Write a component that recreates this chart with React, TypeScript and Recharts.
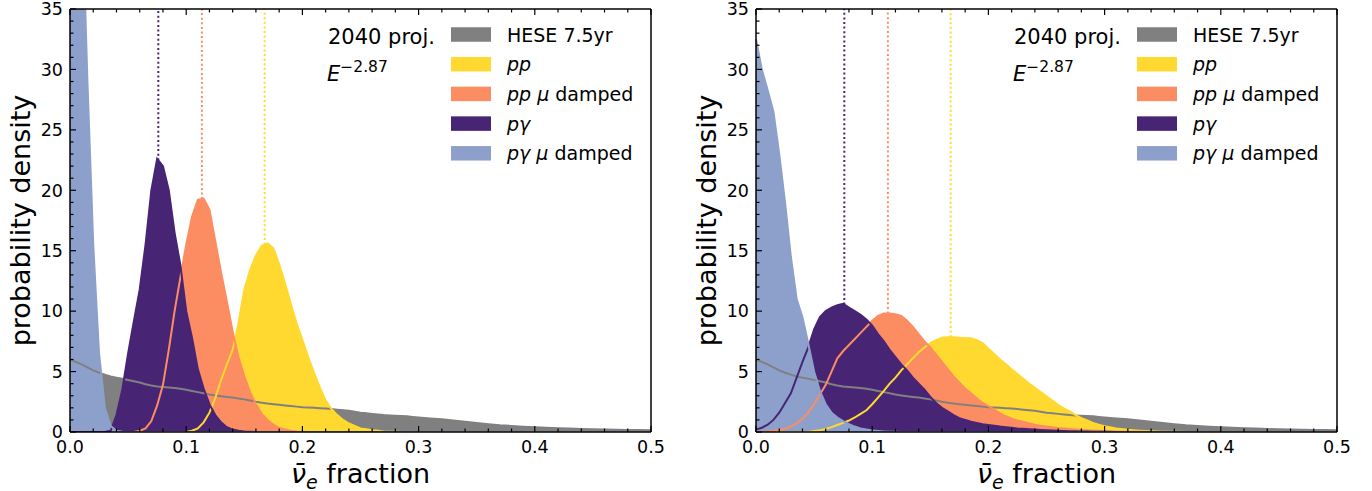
import React from 'react';
import { ComposedChart, Area, Line, XAxis, YAxis, ReferenceLine, Legend } from 'recharts';

// nu_e-bar fraction grid (x positions of the density estimates)
const fracGrid = [
  0, 0.005, 0.01, 0.015, 0.02, 0.025, 0.03, 0.035, 0.04, 0.045,
  0.05, 0.055, 0.06, 0.065, 0.07, 0.075, 0.08, 0.085, 0.09, 0.095,
  0.1, 0.105, 0.11, 0.115, 0.12, 0.125, 0.13, 0.135, 0.14, 0.145,
  0.15, 0.155, 0.16, 0.165, 0.17, 0.175, 0.18, 0.185, 0.19, 0.195,
  0.2, 0.205, 0.21, 0.215, 0.22, 0.225, 0.23, 0.235, 0.24, 0.245,
  0.25, 0.255, 0.26, 0.265, 0.27, 0.275, 0.28, 0.285, 0.29, 0.295,
  0.3, 0.31, 0.32, 0.33, 0.34, 0.35, 0.36, 0.37, 0.38, 0.39,
  0.4, 0.41, 0.42, 0.43, 0.44, 0.45, 0.46, 0.47, 0.48, 0.49,
  0.5,
];

// HESE 7.5yr (same in both panels)
const heseDensity = [
  6.0, 5.8, 5.6, 5.35, 5.1, 4.9, 4.75, 4.6, 4.5, 4.4,
  4.3, 4.2, 4.1, 3.95, 3.85, 3.77, 3.72, 3.68, 3.65, 3.58,
  3.5, 3.4, 3.3, 3.2, 3.1, 3.02, 2.95, 2.9, 2.85, 2.78,
  2.7, 2.6, 2.5, 2.42, 2.35, 2.3, 2.25, 2.2, 2.15, 2.1,
  2.05, 2.02, 2.0, 1.97, 1.95, 1.9, 1.85, 1.8, 1.75, 1.68,
  1.6, 1.55, 1.5, 1.45, 1.4, 1.37, 1.35, 1.32, 1.3, 1.25,
  1.2, 1.12, 1.05, 0.95, 0.85, 0.75, 0.65, 0.56, 0.5, 0.44,
  0.4, 0.35, 0.31, 0.28, 0.25, 0.22, 0.2, 0.18, 0.17, 0.16,
  0.15,
];

// left panel
const ppLeft = [
  0, 0, 0, 0, 0, 0, 0, 0, 0, 0,
  0, 0, 0, 0, 0, 0, 0, 0, 0, 0,
  0, 0.1, 0.3, 0.8, 1.6, 2.8, 4.3, 5.6, 6.8, 9.0,
  11.8, 13.4, 14.6, 15.4, 15.6, 15.2, 13.9, 12.3, 10.6, 9.0,
  7.6, 6.2, 4.9, 3.7, 2.6, 1.9, 1.4, 1.0, 0.7, 0.5,
  0.3, 0.22, 0.15, 0.1, 0.05, 0.03, 0.02, 0.01, 0, 0,
  0, 0, 0, 0, 0, 0, 0, 0, 0, 0,
  0, 0, 0, 0, 0, 0, 0, 0, 0, 0,
  0,
];
const ppDampedLeft = [
  0, 0, 0, 0, 0, 0, 0, 0, 0, 0,
  0, 0, 0.1, 0.3, 0.9, 2.2, 3.9, 6.8, 10.0, 12.8,
  15.5, 17.8, 19.2, 19.3, 18.4, 15.8, 13.2, 10.8, 8.3, 6.2,
  4.6, 3.3, 2.3, 1.5, 1.0, 0.6, 0.35, 0.2, 0.1, 0.05,
  0.02, 0, 0, 0, 0, 0, 0, 0, 0, 0,
  0, 0, 0, 0, 0, 0, 0, 0, 0, 0,
  0, 0, 0, 0, 0, 0, 0, 0, 0, 0,
  0, 0, 0, 0, 0, 0, 0, 0, 0, 0,
  0,
];
const pgLeft = [
  0, 0, 0, 0, 0, 0, 0, 0.1, 1.4, 3.5,
  6.5, 9.2, 11.8, 15.5, 20.0, 22.6, 22.0, 20.0, 16.5, 13.8,
  10.0, 7.8, 5.2, 3.6, 2.3, 1.4, 0.8, 0.4, 0.2, 0.1,
  0.05, 0.02, 0, 0, 0, 0, 0, 0, 0, 0,
  0, 0, 0, 0, 0, 0, 0, 0, 0, 0,
  0, 0, 0, 0, 0, 0, 0, 0, 0, 0,
  0, 0, 0, 0, 0, 0, 0, 0, 0, 0,
  0, 0, 0, 0, 0, 0, 0, 0, 0, 0,
  0,
];
const pgDampedLeft = [
  80, 60, 45, 29, 15.5, 6.5, 2.0, 0.5, 0.1, 0.02,
  0, 0, 0, 0, 0, 0, 0, 0, 0, 0,
  0, 0, 0, 0, 0, 0, 0, 0, 0, 0,
  0, 0, 0, 0, 0, 0, 0, 0, 0, 0,
  0, 0, 0, 0, 0, 0, 0, 0, 0, 0,
  0, 0, 0, 0, 0, 0, 0, 0, 0, 0,
  0, 0, 0, 0, 0, 0, 0, 0, 0, 0,
  0, 0, 0, 0, 0, 0, 0, 0, 0, 0,
  0,
];

// right panel
const ppRight = [
  0, 0, 0, 0, 0, 0, 0, 0, 0, 0,
  0.08, 0.15, 0.25, 0.4, 0.58, 0.75, 0.95, 1.2, 1.5, 1.8,
  2.3, 2.85, 3.4, 4.0, 4.5, 5.1, 5.6, 6.1, 6.6, 7.0,
  7.35, 7.6, 7.8, 7.85, 7.85, 7.8, 7.75, 7.75, 7.6, 7.35,
  6.9, 6.45, 6.0, 5.6, 5.2, 4.8, 4.4, 4.0, 3.65, 3.3,
  2.95, 2.6, 2.25, 1.95, 1.7, 1.4, 1.15, 0.95, 0.75, 0.6,
  0.48, 0.3, 0.18, 0.11, 0.06, 0.03, 0.02, 0, 0, 0,
  0, 0, 0, 0, 0, 0, 0, 0, 0, 0,
  0,
];
const ppDampedRight = [
  0, 0.02, 0.05, 0.1, 0.15, 0.28, 0.45, 0.72, 1.1, 1.6,
  2.3, 3.1, 3.9, 5.0, 6.1, 6.7, 7.2, 7.7, 8.2, 8.7,
  9.2, 9.6, 9.8, 9.8, 9.75, 9.6, 9.2, 8.7, 8.1, 7.5,
  7.0, 6.4, 5.8, 5.2, 4.6, 4.1, 3.6, 3.2, 2.8, 2.4,
  2.15, 1.85, 1.55, 1.3, 1.1, 0.95, 0.85, 0.72, 0.6, 0.52,
  0.45, 0.39, 0.33, 0.29, 0.25, 0.21, 0.17, 0.14, 0.12, 0.1,
  0.08, 0.05, 0.03, 0.02, 0.01, 0, 0, 0, 0, 0,
  0, 0, 0, 0, 0, 0, 0, 0, 0, 0,
  0,
];
const pgRight = [
  0.2, 0.35, 0.6, 1.0, 1.6, 2.4, 3.2, 4.5, 5.8, 7.0,
  8.5, 9.5, 10.0, 10.3, 10.5, 10.6, 10.3, 10.0, 9.7, 9.3,
  8.8, 8.1, 7.5, 6.8, 6.2, 5.6, 5.1, 4.5, 4.0, 3.5,
  2.9, 2.4, 2.0, 1.7, 1.4, 1.15, 1.0, 0.85, 0.75, 0.65,
  0.58, 0.52, 0.45, 0.4, 0.35, 0.3, 0.27, 0.23, 0.2, 0.17,
  0.15, 0.12, 0.1, 0.08, 0.07, 0.06, 0.05, 0.04, 0.03, 0.025,
  0.02, 0.01, 0, 0, 0, 0, 0, 0, 0, 0,
  0, 0, 0, 0, 0, 0, 0, 0, 0, 0,
  0,
];
const pgDampedRight = [
  32.5, 30.0, 28.3, 26.5, 23.0, 19.0, 14.5, 11.0, 9.5, 7.3,
  5.0, 3.4, 2.3, 1.6, 1.2, 0.9, 0.65, 0.45, 0.3, 0.2,
  0.12, 0.08, 0.05, 0.03, 0.02, 0, 0, 0, 0, 0,
  0, 0, 0, 0, 0, 0, 0, 0, 0, 0,
  0, 0, 0, 0, 0, 0, 0, 0, 0, 0,
  0, 0, 0, 0, 0, 0, 0, 0, 0, 0,
  0, 0, 0, 0, 0, 0, 0, 0, 0, 0,
  0, 0, 0, 0, 0, 0, 0, 0, 0, 0,
  0,
];

// expected source fractions (dotted lines)
const expectedPp = 0.1675;
const expectedPpDamped = 0.1135;
const expectedPg = 0.076;

const xTicks = [
  0, 0.02, 0.04, 0.06, 0.08, 0.1, 0.12, 0.14, 0.16, 0.18, 0.2, 0.22, 0.24,
  0.26, 0.28, 0.3, 0.32, 0.34, 0.36, 0.38, 0.4, 0.42, 0.44, 0.46, 0.48, 0.5,
];
const yTicks = [
  0, 1, 2, 3, 4, 5, 6, 7, 8, 9, 10, 11, 12, 13, 14, 15, 16, 17,
  18, 19, 20, 21, 22, 23, 24, 25, 26, 27, 28, 29, 30, 31, 32, 33, 34, 35,
];

const FONT = '"DejaVu Sans", Verdana, sans-serif';
const W = 686;
const H = 491;
const PLOT_LEFT = 70;
const PLOT_TOP = 9;
const MAJOR = 6;
const MINOR = 3.5;

const series = [
  { key: 'hese', color: '#808080' },
  { key: 'pp', color: '#ffd92f' },
  { key: 'ppDamped', color: '#fc8d62' },
  { key: 'pg', color: '#482475' },
  { key: 'pgDamped', color: '#8da0cb' },
];

const colorOf = (k: string) => series.find((s) => s.key === k)!.color;

// linear interpolation of a density at a given fraction (end of the dotted lines)
const densityAt = (ys: number[], x: number) => {
  for (let i = 0; i < fracGrid.length - 1; i++) {
    if (x >= fracGrid[i] && x <= fracGrid[i + 1]) {
      const t = (x - fracGrid[i]) / (fracGrid[i + 1] - fracGrid[i]);
      return ys[i] + t * (ys[i + 1] - ys[i]);
    }
  }
  return 0;
};

const isMajorX = (v: number) => Math.abs(v * 10 - Math.round(v * 10)) < 1e-6;

const BottomTick = ({ x, y, payload }: any) => {
  const major = isMajorX(payload.value);
  return (
    <g>
      <line x1={x} x2={x} y1={y} y2={y - (major ? MAJOR : MINOR)} stroke="#000" strokeWidth={1.2} />
      {major && (
        <text x={x} y={y + 21} textAnchor="middle" fontSize={17.5} fontFamily={FONT} fill="#000">
          {payload.value.toFixed(1)}
        </text>
      )}
    </g>
  );
};

const TopTick = ({ x, y, payload }: any) => (
  <line x1={x} x2={x} y1={y} y2={y + (isMajorX(payload.value) ? MAJOR : MINOR)} stroke="#000" strokeWidth={1.2} />
);

const LeftTick = ({ x, y, payload }: any) => {
  const major = payload.value % 5 === 0;
  return (
    <g>
      <line x1={x} x2={x + (major ? MAJOR : MINOR)} y1={y} y2={y} stroke="#000" strokeWidth={1.2} />
      {major && (
        <text x={x - 7} y={y + 6.3} textAnchor="end" fontSize={17.5} fontFamily={FONT} fill="#000">
          {payload.value}
        </text>
      )}
    </g>
  );
};

const RightTick = ({ x, y, payload }: any) => (
  <line x1={x} x2={x - (payload.value % 5 === 0 ? MAJOR : MINOR)} y1={y} y2={y} stroke="#000" strokeWidth={1.2} />
);

const XTitle = (props: any) => {
  const vb = props.viewBox || { x: PLOT_LEFT, y: 432, width: 581, height: 59 };
  return (
    <text x={vb.x + vb.width / 2} y={vb.y + 51} textAnchor="middle" fontSize={27} fontFamily={FONT} fill="#000">
      <tspan fontStyle="italic">{'\u03BD\u0304'}</tspan>
      <tspan fontStyle="italic" fontSize={19} dy={6}>e</tspan>
      <tspan dy={-6}> fraction</tspan>
    </text>
  );
};

const YTitle = (props: any) => {
  const vb = props.viewBox || { x: 0, y: PLOT_TOP, width: PLOT_LEFT, height: 423 };
  const cx = vb.x + 30;
  const cy = vb.y + vb.height / 2;
  return (
    <text x={cx} y={cy} transform={`rotate(-90, ${cx}, ${cy})`} textAnchor="middle" fontSize={27} fontFamily={FONT} fill="#000">
      probability density
    </text>
  );
};

const legendRows = [
  { key: 'hese', label: <tspan>HESE 7.5yr</tspan> },
  { key: 'pp', label: <tspan fontStyle="italic">pp</tspan> },
  { key: 'ppDamped', label: <><tspan fontStyle="italic">pp μ</tspan><tspan> damped</tspan></> },
  { key: 'pg', label: <tspan fontStyle="italic">pγ</tspan> },
  { key: 'pgDamped', label: <><tspan fontStyle="italic">pγ μ</tspan><tspan> damped</tspan></> },
];

const LegendOverlay = () => (
  <svg width={W} height={H} style={{ position: 'absolute', left: 0, top: 0 }}>
    <text x={PLOT_LEFT + 258} y={43.5} fontSize={21} fontFamily={FONT} fill="#000">2040 proj.</text>
    <text x={PLOT_LEFT + 257} y={80.5} fontSize={21} fontFamily={FONT} fill="#000">
      <tspan fontStyle="italic">E</tspan>
      <tspan fontSize={15.5} dy={-9}>−2.87</tspan>
    </text>
    {legendRows.map((row, i) => {
      const cy = 34.5 + i * 29.7;
      return (
        <g key={row.key}>
          <rect x={PLOT_LEFT + 381} y={cy - 7.25} width={40} height={14.5} fill={colorOf(row.key)} />
          <text x={PLOT_LEFT + 437} y={cy + 7} fontSize={19} fontFamily={FONT} fill="#000">
            {row.label}
          </text>
        </g>
      );
    })}
  </svg>
);

interface PanelProps {
  pp: number[];
  ppDamped: number[];
  pg: number[];
  pgDamped: number[];
  left: number;
}

const Panel: React.FC<PanelProps> = ({ pp, ppDamped, pg, pgDamped, left }) => {
  const rows = fracGrid.map((f, i) => ({
    f,
    hese: heseDensity[i],
    pp: pp[i],
    ppDamped: ppDamped[i],
    pg: pg[i],
    pgDamped: pgDamped[i],
  }));
  const dotted = [
    { key: 'pg', x: expectedPg, ys: pg },
    { key: 'ppDamped', x: expectedPpDamped, ys: ppDamped },
    { key: 'pp', x: expectedPp, ys: pp },
  ];

  return (
    <div style={{ position: 'absolute', left, top: 0, width: W, height: H }}>
      <ComposedChart
        width={W}
        height={H}
        data={rows}
        margin={{ top: PLOT_TOP - 1, right: 34, bottom: 0, left: 0 }}
        style={{ fontFamily: FONT }}
      >
        {dotted.map((d) => (
          <ReferenceLine
            key={d.key}
            xAxisId="x"
            yAxisId="y"
            segment={[{ x: d.x, y: densityAt(d.ys, d.x) }, { x: d.x, y: 35 }]}
            stroke={colorOf(d.key)}
            strokeWidth={2}
            strokeDasharray="2 2.6"
          />
        ))}

        {series.map((s) => (
          <Area
            key={`fill-${s.key}`}
            xAxisId="x"
            yAxisId="y"
            type="linear"
            dataKey={s.key}
            stroke="none"
            fill={s.color}
            fillOpacity={1}
            isAnimationActive={false}
            legendType="none"
          />
        ))}
        {series.map((s) => (
          <Line
            key={`line-${s.key}`}
            xAxisId="x"
            yAxisId="y"
            type="linear"
            dataKey={s.key}
            stroke={s.color}
            strokeWidth={2}
            dot={false}
            activeDot={false}
            isAnimationActive={false}
            legendType="none"
          />
        ))}

        <XAxis
          xAxisId="x"
          dataKey="f"
          type="number"
          domain={[0, 0.5]}
          ticks={xTicks}
          interval={0}
          height={59}
          tickSize={0}
          tickMargin={0}
          tickLine={false}
          axisLine={{ stroke: '#000', strokeWidth: 1.5 }}
          tick={(p: any) => <BottomTick {...p} />}
          label={<XTitle />}
        />
        <XAxis
          xAxisId="top"
          orientation="top"
          dataKey="f"
          type="number"
          domain={[0, 0.5]}
          ticks={xTicks}
          interval={0}
          height={1}
          tickSize={0}
          tickMargin={0}
          tickLine={false}
          axisLine={{ stroke: '#000', strokeWidth: 1.5 }}
          tick={(p: any) => <TopTick {...p} />}
        />
        <YAxis
          yAxisId="y"
          type="number"
          domain={[0, 35]}
          allowDataOverflow
          ticks={yTicks}
          interval={0}
          width={PLOT_LEFT}
          tickSize={0}
          tickMargin={0}
          tickLine={false}
          axisLine={{ stroke: '#000', strokeWidth: 1.5 }}
          tick={(p: any) => <LeftTick {...p} />}
          label={<YTitle />}
        />
        <YAxis
          yAxisId="right"
          orientation="right"
          type="number"
          domain={[0, 35]}
          ticks={yTicks}
          interval={0}
          width={1}
          tickSize={0}
          tickMargin={0}
          tickLine={false}
          axisLine={{ stroke: '#000', strokeWidth: 1.5 }}
          tick={(p: any) => <RightTick {...p} />}
        />
        <Legend
          layout="vertical"
          align="center"
          verticalAlign="middle"
          wrapperStyle={{ left: 0, top: 0, width: W, height: H, pointerEvents: 'none' }}
          content={() => <LegendOverlay />}
        />
      </ComposedChart>
    </div>
  );
};

export default function App() {
  return (
    <div style={{ position: 'absolute', left: 0, top: 0, width: 1372, height: 491, background: '#fff' }}>
      <Panel pp={ppLeft} ppDamped={ppDampedLeft} pg={pgLeft} pgDamped={pgDampedLeft} left={0} />
      <Panel pp={ppRight} ppDamped={ppDampedRight} pg={pgRight} pgDamped={pgDampedRight} left={686} />
    </div>
  );
}
